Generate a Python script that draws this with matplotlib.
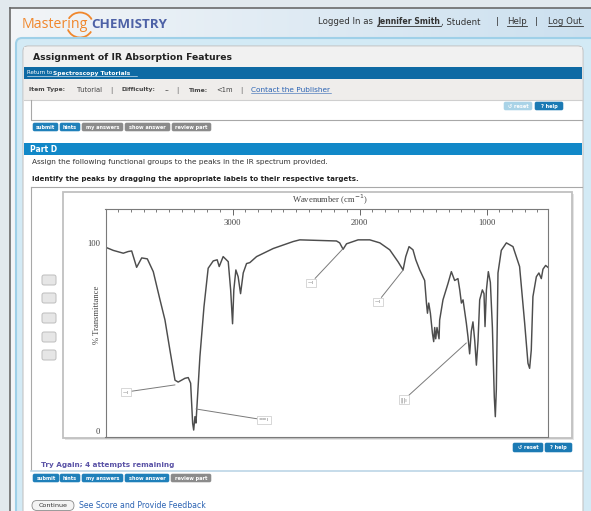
import matplotlib.pyplot as plt
from matplotlib.patches import Rectangle, FancyBboxPatch, Arc
import numpy as np

# IR trace (cm-1, % transmittance)
wavenumber = [4000, 3939, 3860, 3821, 3794, 3755, 3715, 3671, 3624, 3571,
              3532, 3493, 3453, 3428, 3375, 3349, 3330, 3314, 3306, 3296,
              3288, 3257, 3225, 3192, 3152, 3121, 3105, 3074, 3034, 3015,
              3000, 2990, 2974, 2956, 2937, 2916, 2890, 2864, 2811, 2680,
              2523, 2471, 2182, 2157, 2130, 2103, 2012, 1920, 1841, 1763,
              1698, 1658, 1637, 1611, 1580, 1558, 1527, 1488, 1474, 1466,
              1456, 1443, 1427, 1417, 1409, 1401, 1391, 1375, 1370, 1344,
              1304, 1278, 1252, 1226, 1212, 1199, 1186, 1173, 1160, 1147,
              1134, 1121, 1108, 1094, 1081, 1068, 1055, 1034, 1021, 1013,
              1002, 987, 971, 955, 940, 932, 924, 911, 885, 845,
              793, 741, 701, 675, 662, 649, 636, 609, 589, 570,
              557, 536, 518]
transmittance = [97.7, 96.0, 94.5, 95.4, 95.7, 87.0, 92.0, 91.5, 84.7, 69.7,
                 59.0, 43.0, 27.0, 26.0, 28.0, 28.4, 25.4, 4.0, 0.5, 7.6,
                 4.2, 39.5, 66.0, 86.5, 90.4, 91.0, 87.4, 92.7, 90.0, 75.0,
                 57.0, 75.0, 85.6, 82.0, 73.0, 84.0, 89.0, 89.5, 92.7, 97.0,
                 100.7, 101.6, 101.0, 100.0, 96.6, 99.5, 101.6, 101.6, 100.0, 96.3,
                 90.0, 85.6, 92.7, 98.0, 96.3, 91.0, 85.6, 80.0, 68.0, 62.6,
                 68.0, 62.6, 52.0, 47.5, 55.0, 49.0, 55.0, 49.0, 59.0, 69.7,
                 78.5, 84.7, 80.0, 81.0, 75.0, 68.0, 69.7, 63.5, 57.3, 50.0,
                 41.0, 53.0, 58.0, 48.0, 35.0, 48.0, 69.7, 75.0, 73.0, 55.5,
                 75.0, 84.7, 79.0, 55.0, 18.0, 7.6, 22.0, 84.0, 96.0, 100.0,
                 98.0, 87.4, 57.3, 36.0, 33.3, 43.0, 71.4, 82.0, 84.0, 81.0,
                 86.0, 88.0, 87.0]

major_ticks = [3000, 2000, 1000]
minor_ticks = list(range(600, 4000, 100))
y_ticks = [0, 100]

# draggable answer labels and the peaks they point at
box_wn = [3839, 2754, 2384, 1857, 1653]
box_t = [20.7, 5.9, 78.7, 68.6, 16.5]
peak_wn = [3453, 3288, 2132, 1657, 1160]
peak_t = [24.5, 11.7, 96.8, 85.6, 46.8]
box_text = ['—ı', '==ı', '—ı', '—ı', '|||ı']

ui = 'DejaVu Sans'
W, H = 591, 511
fig = plt.figure(figsize=(W / 100, H / 100), dpi=100)
fig.patch.set_facecolor('#e2e9ee')
bg = fig.add_axes([0, 0, 1, 1])
bg.axis('off')

# header gradient inside the window frame
grad = np.linspace(0, 1, 256)
c0 = np.array([0.95, 0.96, 0.97])
c1 = np.array([0.80, 0.88, 0.94])
img = (c0[None, :] * (1 - grad[:, None]) + c1[None, :] * grad[:, None])[None, :, :]
bg.imshow(img, extent=(10, W, 511, 8), aspect='auto', zorder=0)
bg.plot([10, W], [8, 8], color='#6a6a6a', lw=1.2, zorder=1)
bg.plot([10, 10], [8, H], color='#6a6a6a', lw=1.2, zorder=1)
bg.set_xlim(0, W)
bg.set_ylim(H, 0)

# logo
bg.text(22, 24, 'Mastering', color='#f0872c', fontsize=10.2, family='Open Sans',
        va='center', ha='left')
bg.text(91, 25, 'CHEMISTRY', color='#4d61a6', fontsize=9.6, family='Open Sans',
        fontweight='bold', va='center', ha='left')
bg.add_patch(Arc((80, 25), 26, 25, theta1=30, theta2=160, color='#f0872c', lw=1.3))
bg.add_patch(Arc((80, 25), 26, 25, theta1=210, theta2=335, color='#f0872c', lw=1.3))

# login line
top = dict(fontsize=6.2, family=ui, va='center', color='#333333')
bg.text(318, 22, 'Logged In as', **top)
bg.text(377, 22, 'Jennifer Smith', fontweight='bold', fontsize=5.6, family=ui,
        va='center', color='#333333')
bg.plot([377, 441], [26.5, 26.5], color='#333', lw=0.6)
bg.text(441, 22, ', Student', **top)
bg.text(496, 22, '|', **top)
bg.text(507, 22, 'Help', **top)
bg.plot([507, 527], [26.5, 26.5], color='#333', lw=0.6)
bg.text(535, 22, '|', **top)
bg.text(548, 22, 'Log Out', **top)
bg.plot([548, 583], [26.5, 26.5], color='#333', lw=0.6)

# light blue container and white panel
bg.add_patch(FancyBboxPatch((16, 38), 600, 520, boxstyle='round,pad=0,rounding_size=6',
                            fc='#d3eaf5', ec='#9fd0e8', lw=1.5, zorder=2))
bg.add_patch(FancyBboxPatch((23, 46), 560, 520, boxstyle='round,pad=0,rounding_size=5',
                            fc='white', ec='#c4c4c4', lw=0.8, zorder=3))
bg.add_patch(Rectangle((24, 47), 558, 20, fc='#f1f1f1', ec='none', zorder=3))
bg.text(33, 58, 'Assignment of IR Absorption Features', fontsize=6.7, fontweight='bold',
        family=ui, color='#222', va='center', zorder=4)
bg.add_patch(Rectangle((24, 67), 558, 12, fc='#0e6aa4', ec='none', zorder=3))
bg.text(27, 73, 'Return to', fontsize=4.0, family=ui, color='white', va='center', zorder=4)
bg.text(53, 73, 'Spectroscopy Tutorials', fontsize=4.3, family=ui, color='white',
        fontweight='bold', va='center', zorder=4)
bg.plot([27, 137], [76.3, 76.3], color='white', lw=0.4, zorder=4)
bg.add_patch(Rectangle((24, 79), 558, 21, fc='#efedeb', ec='none', zorder=3))
bg.plot([24, 582], [100, 100], color='#cfcfcf', lw=0.8, zorder=4)
row = dict(family=ui, va='center', color='#444', zorder=4)
bg.text(29, 90, 'Item Type:', fontweight='bold', fontsize=4.4, **row)
bg.text(77, 90, 'Tutorial', fontsize=4.9, **row)
bg.text(110, 90, '|', fontsize=4.9, **row)
bg.text(121, 90, 'Difficulty:', fontweight='bold', fontsize=4.4, **row)
bg.text(165, 90, '--', fontsize=4.9, **row)
bg.text(176, 90, '|', fontsize=4.9, **row)
bg.text(189, 90, 'Time:', fontweight='bold', fontsize=4.4, **row)
bg.text(216, 90, '<1m', fontsize=4.9, **row)
bg.text(240, 90, '|', fontsize=4.9, **row)
bg.text(251, 90, 'Contact the Publisher', fontsize=5.3, family=ui, va='center',
        color='#2b63b3', zorder=4)
bg.plot([251, 331], [93.5, 93.5], color='#2b63b3', lw=0.4, zorder=4)

# previous part's frame
bg.plot([31, 31, 582], [100, 120, 120], color='#a8a8a8', lw=0.8, zorder=4)


def button(x0, x1, y0, y1, text, color, size=3.6):
    bg.add_patch(FancyBboxPatch((x0, y0), x1 - x0, y1 - y0,
                                boxstyle='round,pad=0,rounding_size=1.5',
                                fc=color, ec=color, lw=0.4, zorder=5))
    bg.text((x0 + x1) / 2, (y0 + y1) / 2 + 0.3, text, fontsize=size, family=ui,
            fontweight='bold', color='white', ha='center', va='center', zorder=6)


button(504, 532, 102, 110, '↺ reset', '#a9d3e7', 3.6)
button(535, 563, 102, 110, '? help', '#1b7ab4', 3.6)

blue_btn = '#1f80ba'
gray_btn = '#8b8b8b'
button(33, 58, 123, 131, 'submit', blue_btn)
button(60, 80, 123, 131, 'hints', blue_btn)
button(82, 123, 123, 131, 'my answers', gray_btn)
button(125, 170, 123, 131, 'show answer', gray_btn)
button(172, 211, 123, 131, 'review part', gray_btn)

# Part D
bg.add_patch(Rectangle((24, 143), 558, 12, fc='#1188c8', ec='none', zorder=3))
bg.text(30, 149, 'Part D', fontsize=5.5, fontweight='bold', family=ui, color='white',
        va='center', zorder=4)
bg.text(32, 162, 'Assign the following functional groups to the peaks in the IR spectrum provided.',
        fontsize=5.35, family=ui, color='#333', va='center', zorder=4)
bg.text(32, 179, 'Identify the peaks by dragging the appropriate labels to their respective targets.',
        fontsize=5.05, fontweight='bold', family=ui, color='#222', va='center', zorder=4)

# question frame and spectrum panel
bg.plot([31, 31], [187, 470], color='#a8a8a8', lw=0.8, zorder=4)
bg.plot([31, 582], [187, 187], color='#a8a8a8', lw=0.8, zorder=4)
bg.add_patch(Rectangle((65, 194), 509, 246, fc='#e4e4e4', ec='none', zorder=4))
bg.add_patch(Rectangle((63, 192), 509, 246, fc='white', ec='#c0c0c0', lw=1.3, zorder=5))

for yy in [275, 293, 313, 332, 350]:
    bg.add_patch(FancyBboxPatch((42, yy), 14, 10, boxstyle='round,pad=0,rounding_size=2',
                                fc='#e6e6e6', ec='#bdbdbd', lw=0.7, zorder=5))

button(513, 543, 443, 452, '↺ reset', '#1b7ab4', 3.6)
button(545, 572, 443, 452, '? help', '#1b7ab4', 3.6)

bg.text(41, 465, 'Try Again; 4 attempts remaining', fontsize=5.2, fontweight='bold',
        family=ui, color='#5a52a6', va='center', zorder=5)
bg.plot([31, 582], [471.5, 471.5], color='#bcd6e6', lw=1.2, zorder=4)
button(33, 59, 474, 482, 'submit', blue_btn)
button(60, 80, 474, 482, 'hints', blue_btn)
button(82, 123, 474, 482, 'my answers', blue_btn)
button(125, 169, 474, 482, 'show answer', blue_btn)
button(171, 211, 474, 482, 'review part', gray_btn)

bg.add_patch(FancyBboxPatch((32, 500.5), 42, 10, boxstyle='round,pad=0,rounding_size=5',
                            fc='#f4f4f4', ec='#8a8a8a', lw=0.6, zorder=5))
bg.text(53, 505.5, 'Continue', fontsize=4.6, family=ui, color='#333', ha='center',
        va='center', zorder=6)
bg.text(79, 505.5, 'See Score and Provide Feedback', fontsize=5.6, family=ui,
        color='#2b63b3', va='center', zorder=6)

# spectrum
ax = fig.add_axes([105.5 / W, 1 - 437 / H, 442.8 / W, 228 / H], zorder=10)
ax.set_facecolor('white')
ax.plot(wavenumber, transmittance, color='#4d4d4d', lw=1.05)
ax.set_xlim(4000, 515)
ax.set_ylim(-3.2, 118)
for s in ax.spines.values():
    s.set_color('#7a7a7a')
    s.set_linewidth(0.8)

ax.xaxis.tick_top()
ax.set_xticks(major_ticks)
ax.set_xticklabels([str(v) for v in major_ticks])
ax.set_xticks(minor_ticks, minor=True)
ax.tick_params(axis='x', which='major', direction='in', length=4, width=0.7,
               color='#666', labelsize=6.2, pad=-13, labelcolor='#444')
ax.tick_params(axis='x', which='minor', direction='in', length=2.4, width=0.6, color='#666')
for lab in ax.get_xticklabels():
    lab.set_family('Liberation Serif')
ax.set_yticks(y_ticks)
ax.set_yticklabels([str(v) for v in y_ticks])
ax.tick_params(axis='y', length=0, labelsize=6.2, pad=4, labelcolor='#444')
for lab in ax.get_yticklabels():
    lab.set_family('Liberation Serif')

ax.text(0.507, 1.04, 'Wavenumber (cm$^{-1}$)', transform=ax.transAxes, ha='center',
        va='center', fontsize=6.2, family='Liberation Serif', color='#444')
ax.text(-0.019, 0.535, '% Transmittance', transform=ax.transAxes, ha='center',
        va='center', rotation=90, fontsize=6.2, family='Liberation Serif', color='#444')

for bw, bt, pw, pt, tx in zip(box_wn, box_t, peak_wn, peak_t, box_text):
    ax.annotate(tx, xy=(pw, pt), xytext=(bw, bt), fontsize=3.6, color='#777',
                ha='center', va='center', family=ui,
                bbox=dict(boxstyle='square,pad=0.35', fc='white', ec='#c8c8c8', lw=0.5),
                arrowprops=dict(arrowstyle='-', color='#7a7a7a', lw=0.7,
                                shrinkA=0, shrinkB=0))

fig.savefig('out.png', dpi=100, facecolor=fig.get_facecolor())
